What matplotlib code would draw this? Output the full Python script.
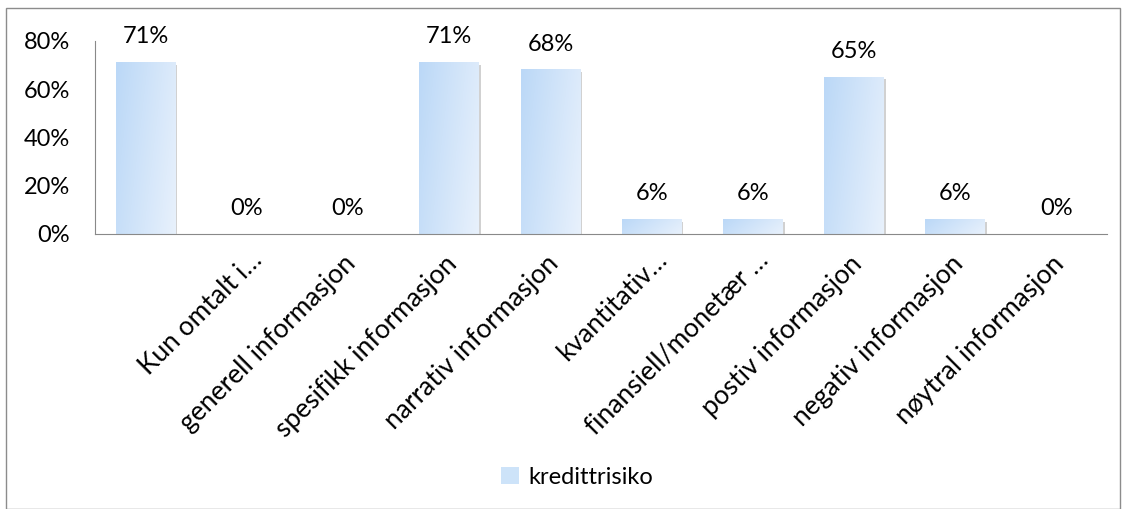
import matplotlib
matplotlib.use("Agg")
import matplotlib.pyplot as plt
import matplotlib.transforms as mtransforms
import numpy as np
from matplotlib.patches import Rectangle, Patch

plt.rcParams['font.family'] = ['Lato', 'DejaVu Sans']

# 10 categories; the first category has no label in the source chart
labels = ["", "Kun omtalt i…", "generell informasjon", "spesifikk informasjon",
          "narrativ informasjon", "kvantitativ…", "finansiell/monetær …",
          "postiv informasjon", "negativ informasjon", "nøytral informasjon"]
values = [71, 0, 0, 71, 68, 6, 6, 65, 6, 0]
series_name = "kredittrisiko"
yticks = [0, 20, 40, 60, 80]

FS = 17
FSX = 19

fig = plt.figure(figsize=(11.28, 5.09), dpi=100)
ax = fig.add_axes([95/1128, 1-234/509, (1107-95)/1128, (234-41)/509])

n = len(values)
x = np.arange(n)
width = 0.59

# diagonal gradient image
gx, gy = np.meshgrid(np.linspace(0, 1, 64), np.linspace(0, 1, 64))
t = np.clip(0.75*gx + 0.25*(1-gy), 0, 1)
c0 = np.array([0xBB, 0xD8, 0xF7]) / 255
c1 = np.array([0xE8, 0xF1, 0xFC]) / 255
grad = c0[None, None, :]*(1-t[..., None]) + c1[None, None, :]*t[..., None]

px = 1/100.0
for xi, v in zip(x, values):
    if v > 0:
        sh = Rectangle((xi - width/2, 0), width, v, facecolor='#9a9a9a',
                       edgecolor='none', alpha=0.45, zorder=1,
                       transform=ax.transData + mtransforms.ScaledTranslation(2*px, -2*px, fig.dpi_scale_trans))
        ax.add_patch(sh)
        ax.imshow(grad, extent=(xi - width/2, xi + width/2, 0, v), aspect='auto',
                  origin='lower', zorder=2, interpolation='bilinear')
    ax.annotate(f"{v}%", (xi, v), xytext=(0, 11), textcoords='offset points',
                ha='center', va='bottom', fontsize=FS, color='#000000')

ax.set_xlim(-0.5, n-0.5)
ax.set_ylim(0, 80)

ax.set_yticks(yticks)
ax.set_yticklabels([f"{t}%" for t in yticks], fontsize=FS)
ax.set_xticks(x)
ax.set_xticklabels(labels, rotation=45, ha='right', rotation_mode='anchor', fontsize=FSX)
ax.tick_params(axis='both', length=0)
ax.tick_params(axis='x', pad=13)
ax.tick_params(axis='y', pad=18)

for lbl in ax.get_xticklabels():
    if lbl.get_text().endswith("…"):
        dx, dy = 3, 5
    else:
        dx, dy = -5, 1
    lbl.set_transform(lbl.get_transform() +
                      mtransforms.ScaledTranslation(dx*px, dy*px, fig.dpi_scale_trans))

for s in ['top', 'right']:
    ax.spines[s].set_visible(False)
for s in ['left', 'bottom']:
    ax.spines[s].set_color('#898989')
    ax.spines[s].set_linewidth(0.8)

handle = Patch(facecolor='#cde3f9', edgecolor='none')
fig.legend([handle], [series_name], loc='center', bbox_to_anchor=(577/1128, 1-477/509),
           frameon=False, fontsize=FS, handlelength=0.75, handleheight=0.75, handletextpad=0.4)

fig.patches.append(Rectangle((6/1128, 0), 1114/1128, 1-8/509, transform=fig.transFigure,
                             fill=False, edgecolor='#8c8c8c', linewidth=1))

fig.savefig("out.png", dpi=100)
